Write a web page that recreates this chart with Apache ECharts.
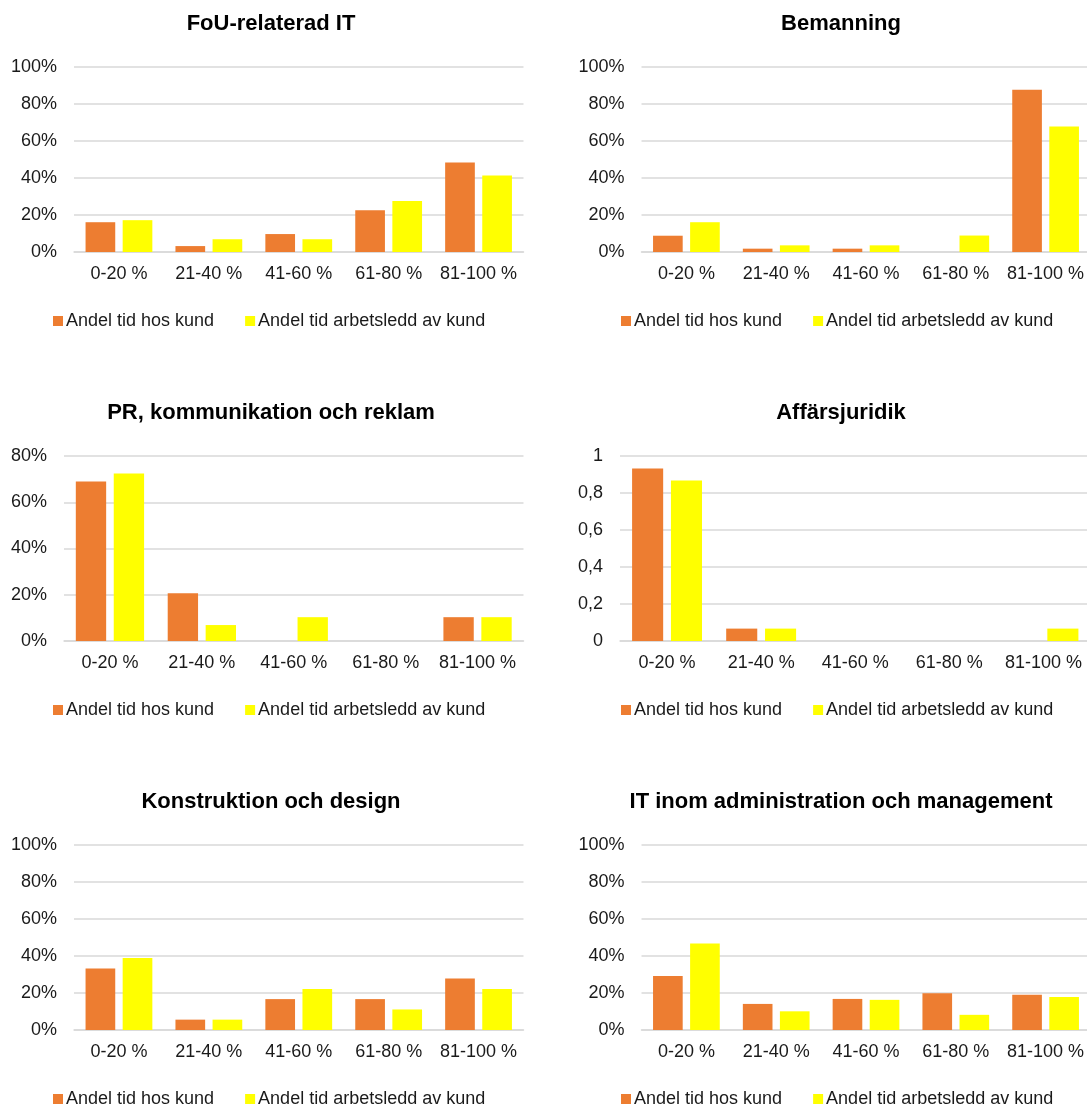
<!DOCTYPE html>
<html>
<head>
<meta charset="utf-8">
<script src="https://cdn.jsdelivr.net/npm/echarts@6/dist/echarts.min.js"></script>
<style>
  html, body { margin: 0; padding: 0; background: #fff; overflow: hidden; }
  #chart { width: 1091px; height: 1106px; }
</style>
</head>
<body>
<div id="chart"></div>
<script>
const categories = ['0-20 %', '21-40 %', '41-60 %', '61-80 %', '81-100 %'];
const seriesNames = ['Andel tid hos kund', 'Andel tid arbetsledd av kund'];
const panelTitles = [
    'FoU-relaterad IT',
    'Bemanning',
    'PR, kommunikation och reklam',
    'Affärsjuridik',
    'Konstruktion och design',
    'IT inom administration och management'
];

// values in percent (Affärsjuridik as share 0-1)
const fouHosKund = [16.1, 3.2, 9.7, 22.6, 48.4];
const fouArbetsledd = [17.2, 6.9, 6.9, 27.6, 41.4];
const bemHosKund = [8.8, 1.8, 1.8, 0, 87.7];
const bemArbetsledd = [16.1, 3.6, 3.6, 8.9, 67.9];
const prHosKund = [69.0, 20.7, 0, 0, 10.3];
const prArbetsledd = [72.4, 6.9, 10.3, 0, 10.3];
const jurHosKund = [0.933, 0.067, 0, 0, 0];
const jurArbetsledd = [0.867, 0.067, 0, 0, 0.067];
const konHosKund = [33.3, 5.6, 16.7, 16.7, 27.8];
const konArbetsledd = [38.9, 5.6, 22.2, 11.1, 22.2];
const itHosKund = [29.2, 14.1, 16.8, 19.9, 19.0];
const itArbetsledd = [46.7, 10.1, 16.3, 8.2, 17.9];

const yMax = [100, 100, 80, 1, 100, 100];
const yStep = [20, 20, 20, 0.2, 20, 20];

const colors = ['#ED7D31', '#FFFF00'];
const font = "'Liberation Sans', Arial, sans-serif";

document.addEventListener('DOMContentLoaded', function() {
    const chart = echarts.init(document.getElementById('chart'));

    const values = [
        [fouHosKund, fouArbetsledd],
        [bemHosKund, bemArbetsledd],
        [prHosKund, prArbetsledd],
        [jurHosKund, jurArbetsledd],
        [konHosKund, konArbetsledd],
        [itHosKund, itArbetsledd]
    ];

    // layout per panel
    const gridLeft = [74, 641.5, 64, 620, 74, 641.5];
    const gridRight = [523.5, 1090.5, 523.5, 1090.5, 523.5, 1090.5];
    const rowTop = [67, 456, 845];
    const titleX = [266, 836];
    const legendX = [53, 621];

    const title = [], legend = [], grid = [], xAxis = [], yAxis = [], series = [];

    panelTitles.forEach((name, i) => {
        const col = i % 2;
        const row = Math.floor(i / 2);
        const top = rowTop[row];

        title.push({
            text: name,
            left: titleX[col],
            textAlign: 'center',
            top: top - 59,
            textStyle: { fontFamily: font, fontSize: 22, fontWeight: 'bold', color: '#000' }
        });
        legend.push({
            data: seriesNames,
            left: legendX[col],
            top: top + 245,
            padding: 0,
            itemWidth: 10,
            itemHeight: 10,
            itemGap: 31,
            icon: 'rect',
            textStyle: { fontFamily: font, fontSize: 18, color: '#1a1a1a', padding: [0, 0, 0, -2] }
        });
        grid.push({
            left: gridLeft[i],
            top: top,
            width: gridRight[i] - gridLeft[i],
            height: 185
        });
        xAxis.push({
            type: 'category',
            gridIndex: i,
            data: categories,
            axisTick: { show: false },
            axisLine: { lineStyle: { color: '#d9d9d9', width: 1.5 } },
            axisLabel: { interval: 0, fontFamily: font, fontSize: 18, color: '#1a1a1a', margin: 13 }
        });
        yAxis.push({
            type: 'value',
            gridIndex: i,
            min: 0,
            max: yMax[i],
            interval: yStep[i],
            axisLine: { show: false },
            axisTick: { show: false },
            splitLine: { lineStyle: { color: '#d9d9d9', width: 1.5 } },
            axisLabel: {
                fontFamily: font, fontSize: 18, color: '#1a1a1a', margin: 17,
                formatter: yMax[i] === 1
                    ? v => String(+v.toFixed(1)).replace('.', ',')
                    : '{value}%'
            }
        });
        values[i].forEach((vals, s) => {
            series.push({
                name: seriesNames[s],
                type: 'bar',
                xAxisIndex: i,
                yAxisIndex: i,
                data: vals,
                barGap: '25%',
                barCategoryGap: '25.7%',
                itemStyle: { color: colors[s] },
                emphasis: { disabled: true }
            });
        });
    });

    chart.setOption({
        animation: false,
        color: colors,
        title: title,
        legend: legend,
        grid: grid,
        xAxis: xAxis,
        yAxis: yAxis,
        series: series
    });
});
</script>
</body>
</html>
